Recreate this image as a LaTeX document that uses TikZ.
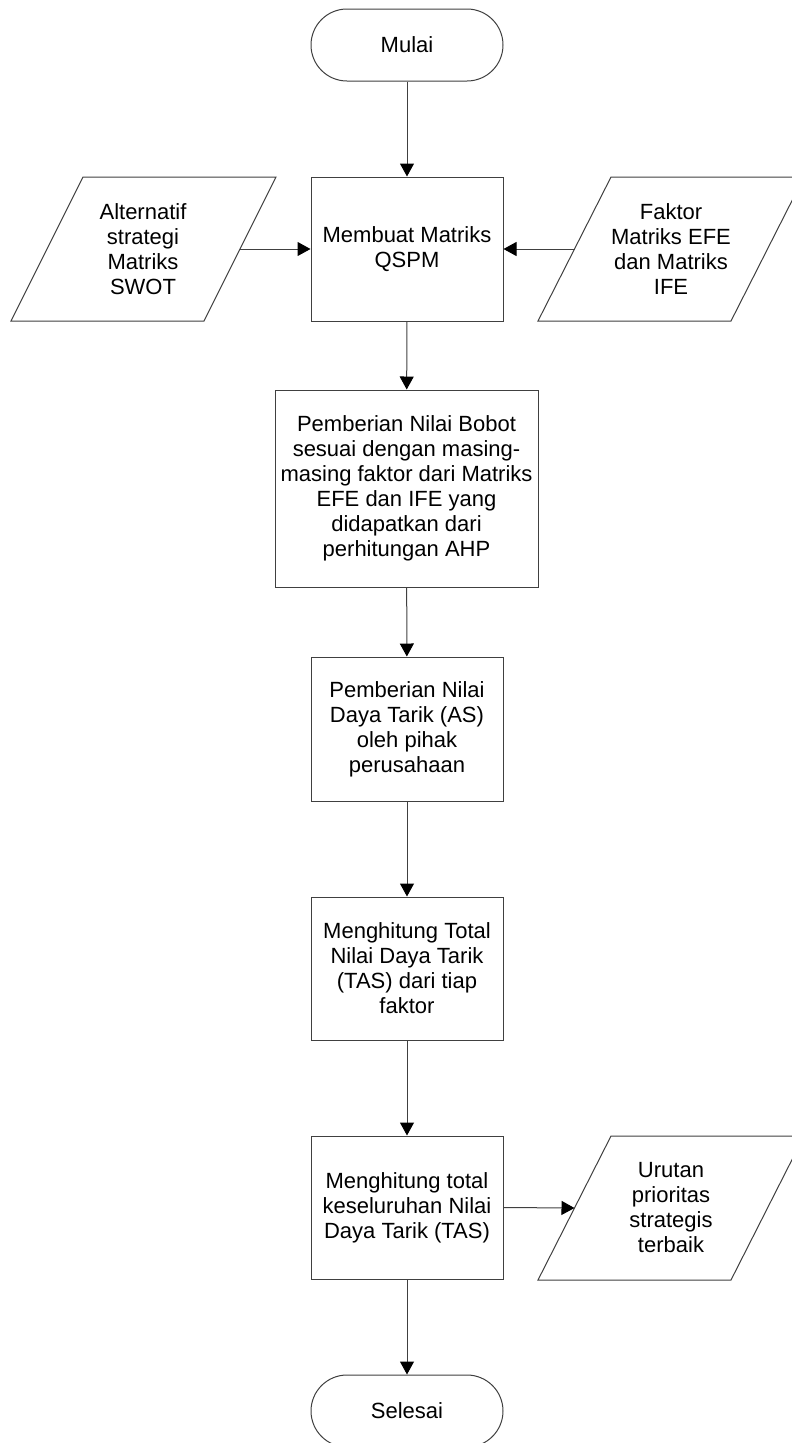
\documentclass[tikz,border=0pt]{standalone}
\usepackage{fontspec}
\setmainfont{Liberation Sans}
\usetikzlibrary{arrows.meta,calc}
\definecolor{linecol}{RGB}{64,64,64}
\begin{document}
\begin{tikzpicture}[x=1pt,y=-1pt,
  every node/.style={font=\fontsize{22pt}{25pt}\selectfont, text=black},
  base/.style={draw=linecol, line width=1pt, align=center, inner sep=0pt, fill=white},
  procbox/.style={base, rectangle, minimum width=192pt, minimum height=144pt},
  termbox/.style={base, rectangle, rounded corners=36pt, minimum width=192pt, minimum height=72pt},
  iotext/.style={align=center, inner sep=0pt},
  ioshape/.style={draw=linecol, line width=1pt, fill=white},
  arr/.style={draw=linecol, line width=1pt, -{Triangle[length=13pt,width=14pt,color=black]}}
]
\useasboundingbox (0,0) rectangle (792,1443);
\clip (0,0) rectangle (792,1443);

% parallelogram outlines (bottom width 193, slant 73 over 144)
\draw[ioshape] (11,321) -- (204,321) -- (276,177) -- (83,177) -- cycle;
\draw[ioshape] (538,321) -- (731,321) -- (804,177) -- (611,177) -- cycle;
\draw[ioshape] (538,1280) -- (731,1280) -- (804,1136) -- (611,1136) -- cycle;

\node[termbox] (mulai) at (407,45) {Mulai};
\node[procbox] (qspm) at (407,249) {Membuat Matriks\\QSPM};
\node[iotext] (alt) at (143,249) {Alternatif\\strategi\\Matriks\\SWOT};
\coordinate (altout) at (240,249);
\node[iotext] (faktor) at (671,249.5) {Faktor\\Matriks EFE\\dan Matriks\\IFE};
\coordinate (faktorin) at (574.5,249);
\node[procbox, minimum width=263pt, minimum height=197pt] (bobot) at (406.5,488.5)
  {Pemberian Nilai Bobot\\sesuai dengan masing-\\masing faktor dari Matriks\\EFE dan IFE yang\\didapatkan dari\\perhitungan AHP};
\node[procbox] (as) at (407,729) {Pemberian Nilai\\Daya Tarik (AS)\\oleh pihak\\perusahaan};
\node[procbox, minimum height=143pt] (tas) at (407,968.5) {Menghitung Total\\Nilai Daya Tarik\\(TAS) dari tiap\\faktor};
\node[procbox, minimum height=143pt] (total) at (407,1207.5) {Menghitung total\\keseluruhan Nilai\\Daya Tarik (TAS)};
\node[iotext] (urutan) at (671,1208) {Urutan\\prioritas\\strategis\\terbaik};
\coordinate (urutanin) at (574.5,1208);
\node[termbox] (selesai) at (407,1411) {Selesai};

\draw[arr] (mulai) -- (qspm);
\draw[arr] (altout) -- (qspm.west);
\draw[arr] (faktorin) -- (qspm.east);
\draw[arr] (qspm) -- (bobot);
\draw[arr] (bobot) -- (as);
\draw[arr] (as) -- (tas);
\draw[arr] (tas) -- (total);
\draw[arr] (total.east) -- (urutanin);
\draw[arr] (total) -- (selesai);
\end{tikzpicture}
\end{document}
